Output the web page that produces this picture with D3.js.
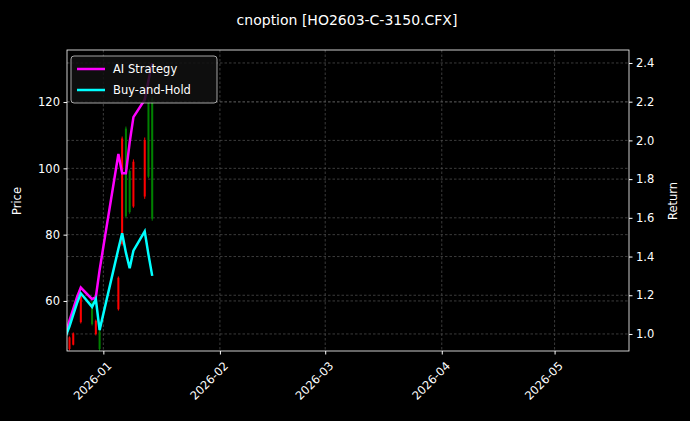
<!DOCTYPE html>
<html><head><meta charset="utf-8">
<script src="https://cdn.jsdelivr.net/npm/d3@7"></script>
<style>body{margin:0;background:#000}svg{font-family:"DejaVu Sans",sans-serif}</style>
</head><body><svg id="c" width="690" height="421"></svg>
<script>
const candleDates = ["2025-12-23","2025-12-24","2025-12-26","2025-12-29","2025-12-30","2025-12-31","2026-01-05","2026-01-06","2026-01-07","2026-01-08","2026-01-09","2026-01-12","2026-01-13","2026-01-14"];
const opens  = [49.0, 50.2, 61.5, 53.0, 54.0, 45.5, 67.0, 109.0, 85.5, 86.8, 102.0, 108.5, 97.5, 84.8];
const closes = [45.5, 46.8, 53.6, 59.5, 50.0, 50.8, 57.5, 77.2, 112.0, 99.2, 88.5, 91.5, 120.2, 121.0];
const highs  = [49.3, 50.5, 62.0, 60.0, 54.4, 51.2, 67.4, 109.6, 112.6, 99.7, 102.7, 109.3, 120.7, 121.6];
const lows   = [45.1, 46.6, 53.2, 52.6, 49.6, 45.0, 57.1, 76.7, 85.1, 86.3, 88.1, 90.8, 97.1, 84.2];
const lineDates = ["2025-12-22","2025-12-23","2025-12-24","2025-12-25","2025-12-26","2025-12-29","2025-12-30","2025-12-31","2026-01-05","2026-01-06","2026-01-07","2026-01-08","2026-01-09","2026-01-12","2026-01-13","2026-01-14"];
const aiStrategy = [1.00, 1.07, 1.13, 1.19, 1.24, 1.18, 1.19, 1.33, 1.93, 1.83, 1.83, 1.99, 2.12, 2.21, 2.31, 2.40];
const buyHold    = [0.99, 1.04, 1.10, 1.16, 1.21, 1.14, 1.18, 1.02, 1.44, 1.52, 1.42, 1.34, 1.43, 1.53, 1.41, 1.30];
const priceTicks = [60, 80, 100, 120];
const returnTicks = [1.0, 1.2, 1.4, 1.6, 1.8, 2.0, 2.2, 2.4];
const monthTicks = ["2026-01-01","2026-02-01","2026-03-01","2026-04-01","2026-05-01"];

const P = d3.timeParse("%Y-%m-%d");
const svg = d3.select("#c");
const L=67,R=629,T=50,B=351;
const x = d3.scaleTime().domain([new Date(2025,11,22,8), new Date(2026,4,20,19)]).range([L,R]);
const yP = d3.scaleLinear().domain([44.9,135.7]).range([B,T]);
const yR = d3.scaleLinear().domain([0.912,2.467]).range([B,T]);
const grid = svg.append("g").attr("stroke","#555").attr("stroke-width",0.7).attr("stroke-dasharray","2.5,2");
monthTicks.forEach(m=>grid.append("line").attr("x1",x(P(m))).attr("x2",x(P(m))).attr("y1",T).attr("y2",B));
priceTicks.forEach(v=>grid.append("line").attr("x1",L).attr("x2",R).attr("y1",yP(v)).attr("y2",yP(v)));
returnTicks.forEach(v=>grid.append("line").attr("x1",L).attr("x2",R).attr("y1",yR(v)).attr("y2",yR(v)));
svg.append("clipPath").attr("id","cl").append("rect").attr("x",L).attr("y",T).attr("width",R-L).attr("height",B-T);
const pl = svg.append("g").attr("clip-path","url(#cl)");
candleDates.forEach((d,i)=>{
  const cx = x(P(d)), col = closes[i]>=opens[i]?"green":"red";
  pl.append("line").attr("x1",cx).attr("x2",cx).attr("y1",yP(highs[i])).attr("y2",yP(lows[i])).attr("stroke",col).attr("stroke-width",1);
  pl.append("rect").attr("x",cx-1).attr("width",2).attr("y",yP(Math.max(opens[i],closes[i]))).attr("height",Math.abs(yP(opens[i])-yP(closes[i]))).attr("fill",col);
});
const ln = arr => d3.line().x((d,i)=>x(P(lineDates[i]))).y(d=>yR(d))(arr);
pl.append("path").attr("d",ln(aiStrategy)).attr("fill","none").attr("stroke","#ff00ff").attr("stroke-width",2.5);
pl.append("path").attr("d",ln(buyHold)).attr("fill","none").attr("stroke","#00ffff").attr("stroke-width",2.5);
svg.append("rect").attr("x",L).attr("y",T).attr("width",R-L).attr("height",B-T).attr("fill","none").attr("stroke","#fff").attr("stroke-width",0.8);
const gl = svg.append("g").attr("transform",`translate(${L},0)`).call(d3.axisLeft(yP).tickValues(priceTicks).tickSize(3.5).tickPadding(3.5));
const gr = svg.append("g").attr("transform",`translate(${R},0)`).call(d3.axisRight(yR).tickValues(returnTicks).tickFormat(d3.format(".1f")).tickSize(3.5).tickPadding(3.5));
const gb = svg.append("g").attr("transform",`translate(0,${B})`).call(d3.axisBottom(x).tickValues(monthTicks.map(P)).tickFormat(d3.timeFormat("%Y-%m")).tickSize(3.5));
[gl,gr,gb].forEach(g=>{g.select(".domain").remove();g.selectAll("line").attr("stroke","#fff");g.selectAll("text").attr("fill","#fff").attr("font-size",11.5).attr("font-family","DejaVu Sans");});
gb.selectAll("text").attr("text-anchor","end").attr("dy","0").attr("transform","translate(4,11) rotate(-45)");
svg.append("text").attr("x",347).attr("y",25).attr("text-anchor","middle").attr("fill","#fff").attr("font-size",14).text("cnoption [HO2603-C-3150.CFX]");
svg.append("text").attr("transform","translate(21,201) rotate(-90)").attr("text-anchor","middle").attr("fill","#fff").attr("font-size",11.5).text("Price");
svg.append("text").attr("transform","translate(677,201) rotate(-90)").attr("text-anchor","middle").attr("fill","#fff").attr("font-size",11.5).text("Return");
const lg = svg.append("g");
lg.append("rect").attr("x",71).attr("y",56).attr("width",146).attr("height",47).attr("rx",3).attr("fill","#111").attr("fill-opacity",0.85).attr("stroke","#ccc").attr("stroke-width",0.8);
[["AI Strategy","#ff00ff"],["Buy-and-Hold","#00ffff"]].forEach((s,i)=>{
  const yy = 69+i*21;
  lg.append("line").attr("x1",77).attr("x2",105).attr("y1",yy).attr("y2",yy).attr("stroke",s[1]).attr("stroke-width",2.5);
  lg.append("text").attr("x",113).attr("y",yy+4).attr("fill","#fff").attr("font-size",11.5).text(s[0]);
});
</script></body></html>
